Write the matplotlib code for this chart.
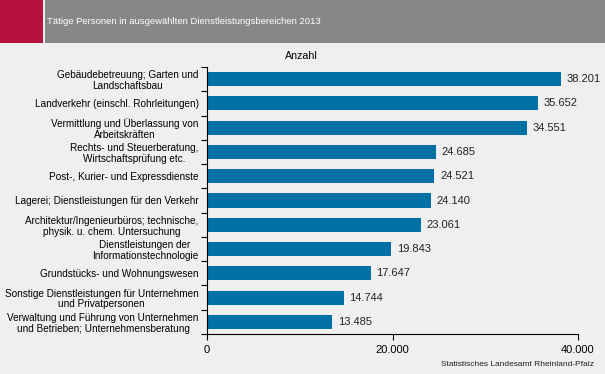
import matplotlib.pyplot as plt
from matplotlib.patches import Rectangle

plt.rcParams['font.family'] = ['Liberation Sans', 'DejaVu Sans']

# Data
categories = [
    "Gebäudebetreuung; Garten und\nLandschaftsbau",
    "Landverkehr (einschl. Rohrleitungen)",
    "Vermittlung und Überlassung von\nArbeitskräften",
    "Rechts- und Steuerberatung,\nWirtschaftsprüfung etc.",
    "Post-, Kurier- und Expressdienste",
    "Lagerei; Dienstleistungen für den Verkehr",
    "Architektur/Ingenieurbüros; technische,\nphysik. u. chem. Untersuchung",
    "Dienstleistungen der \nInformationstechnologie",
    "Grundstücks- und Wohnungswesen",
    "Sonstige Dienstleistungen für Unternehmen\nund Privatpersonen",
    "Verwaltung und Führung von Unternehmen\nund Betrieben; Unternehmensberatung",
]
values = [38201, 35652, 34551, 24685, 24521, 24140, 23061, 19843, 17647, 14744, 13485]
xticks = [0, 20000, 40000]

title = "Tätige Personen in ausgewählten Dienstleistungsbereichen 2013"
unit = "Anzahl"
source = "Statistisches Landesamt Rheinland-Pfalz"

BG = '#EEEFEE'
BAR = '#0071A4'
W, H = 605, 374


def de(n):
    return f"{n:,}".replace(",", ".")


fig = plt.figure(figsize=(W / 100, H / 100), dpi=100, facecolor=BG)

# header band
fig.patches.append(Rectangle((0, 1 - 43 / H), 43 / W, 43 / H, transform=fig.transFigure,
                             facecolor='#B5123E', edgecolor='none'))
fig.patches.append(Rectangle((45 / W, 1 - 43 / H), 1 - 45 / W, 43 / H, transform=fig.transFigure,
                             facecolor='#878787', edgecolor='none'))
fig.text(47 / W, 1 - 22 / H, title, color='white', fontsize=6.8, va='center', ha='left')

ax = fig.add_axes([207 / W, 1 - 334 / H, (578 - 207) / W, (334 - 67) / H])
ax.set_facecolor(BG)

n = len(categories)
ypos = list(range(n))
ax.barh(ypos, values, height=0.58, color=BAR)
ax.set_ylim(n - 0.5, -0.5)
ax.set_xlim(0, 40000)

for y, v in zip(ypos, values):
    ax.text(v + 600, y, de(v), va='center', ha='left', fontsize=8.0, color='#222222')

ax.set_yticks(ypos)
ax.set_yticklabels(categories, fontsize=7.2, multialignment='center', linespacing=1.1)
ax.tick_params(axis='y', length=0, pad=6)
# tick marks at category boundaries
ax.set_yticks([i - 0.5 for i in range(n + 1)], minor=True)
ax.tick_params(axis='y', which='minor', length=4, width=0.8, direction='out')

ax.set_xticks(xticks)
ax.set_xticklabels([de(t) for t in xticks], fontsize=8.0)
ax.tick_params(axis='x', length=4, width=0.8, direction='out', pad=4)

for s in ['top', 'right']:
    ax.spines[s].set_visible(False)
for s in ['left', 'bottom']:
    ax.spines[s].set_linewidth(0.8)
    ax.spines[s].set_color('black')

fig.text(301 / W, 1 - 56 / H, unit, fontsize=7.7, ha='center', va='center')
fig.text(594 / W, 1 - 365 / H, source, fontsize=6, ha='right', va='center', color='#222222')

fig.savefig('out.png', dpi=100, facecolor=BG)
